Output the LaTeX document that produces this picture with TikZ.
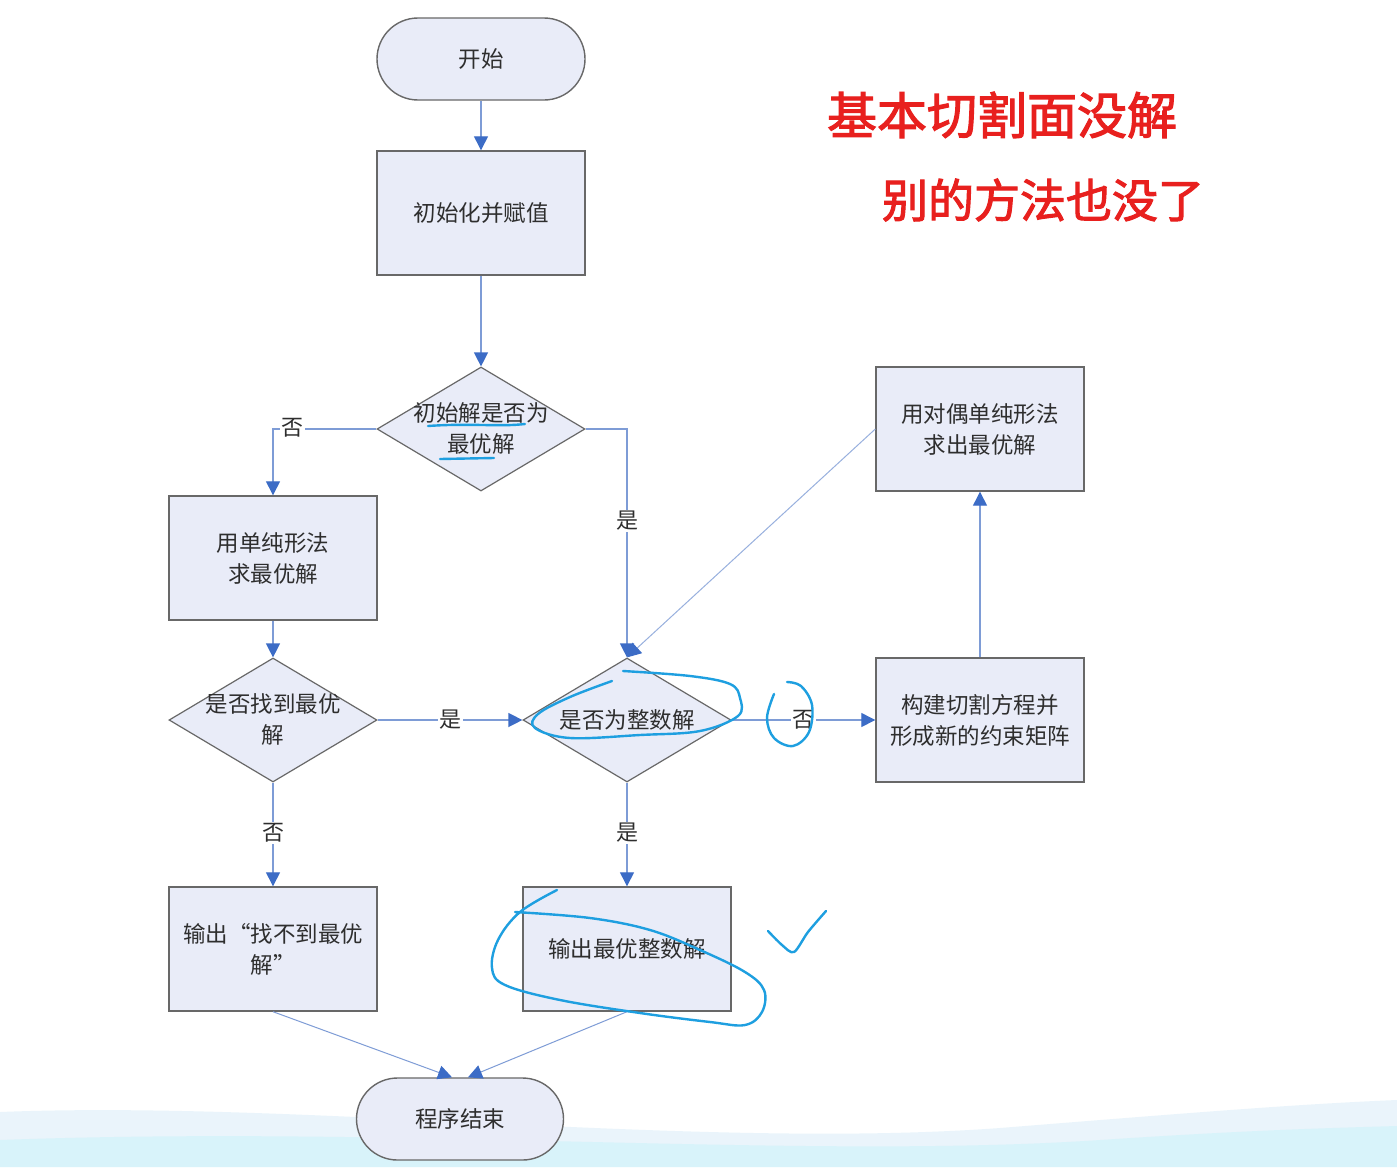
\documentclass[tikz,border=0pt]{standalone}
\usepackage{fontspec}
\setmainfont{Noto Sans CJK SC}
\newfontfamily\handfont[AutoFakeBold=2.2]{Noto Sans CJK SC}
\usetikzlibrary{shapes.geometric,arrows.meta}
\definecolor{boxfill}{HTML}{E9ECF8}
\definecolor{boxline}{HTML}{686868}
\definecolor{flowline}{HTML}{7E9CD6}
\definecolor{tipblue}{HTML}{3C6CC6}
\definecolor{ink}{HTML}{2E2E2E}
\definecolor{bluepen}{HTML}{1E9FE0}
\definecolor{redpen}{HTML}{E8201E}
\definecolor{bandblue}{HTML}{DCEEF9}
\begin{document}
\begin{tikzpicture}[x=1pt,y=-1pt,
  box/.style={draw=boxline, line width=1.4pt, fill=boxfill,
    minimum width=208pt, minimum height=124pt, inner sep=0pt,
    text=ink, font=\fontsize{22.5}{31}\selectfont, align=center},
  term/.style={box, minimum height=82pt, rounded corners=41pt},
  dia/.style={diamond, draw=boxline, line width=1.2pt, fill=boxfill,
    minimum width=208pt, minimum height=124pt, inner sep=0pt},
  txt/.style={text=ink, font=\fontsize{22.5}{31}\selectfont, align=center, inner sep=0pt},
  flow/.style={draw=flowline, line width=1.3pt,
    -{Triangle[length=14pt,width=14pt,color=tipblue]}},
  lbl/.style={fill=white, text=ink, font=\fontsize{22}{24}\selectfont, inner sep=1.5pt},
  pen/.style={draw=bluepen, line width=2.4pt, line cap=round, line join=round},
  hand/.style={text=redpen, inner sep=0pt}]

% page and slide decoration
\useasboundingbox (0,0) rectangle (1397,1167);
\fill[white] (0,0) rectangle (1397,1167);
\fill[bandblue, opacity=0.6] (0,1167) -- (0,1112)
  .. controls (300,1100) and (700,1150) .. (1000,1128)
  .. controls (1200,1112) and (1300,1104) .. (1397,1100) -- (1397,1167) -- cycle;
\fill[bandblue!80!cyan, opacity=0.3] (0,1167) -- (0,1140)
  .. controls (400,1125) and (800,1160) .. (1100,1140)
  .. controls (1250,1130) and (1330,1128) .. (1397,1126) -- (1397,1167) -- cycle;

% flowchart nodes
\node[term] (start) at (481,59) {开始};
\node[box] (init) at (481,213) {初始化并赋值};
\node[dia] (d1) at (481,429) {};
\node[txt] (d1t) at (481,428) {初始解是否为\\最优解};
\node[box] (simp) at (273,558) {用单纯形法\\求最优解};
\node[dia] (d2) at (273,720) {};
\node[txt] (d2t) at (273,719) {是否找到最优\\解};
\node[dia] (d3) at (627,720) {};
\node[txt] (d3t) at (627,720) {是否为整数解};
\node[box] (cut) at (980,720) {构建切割方程并\\形成新的约束矩阵};
\node[box] (dual) at (980,429) {用对偶单纯形法\\求出最优解};
\node[box] (nof) at (273,949) {输出“找不到最优\\解”};
\node[box] (outint) at (627,949) {输出最优整数解};
\node[term, minimum width=207pt] (stop) at (460,1119) {程序结束};

% connectors
\draw[flow] (start) -- (init);
\draw[flow] (init) -- (d1);
\draw[flow] (d1.west) -| (simp.north);
\draw[flow] (d1.east) -| (d3.north);
\draw[flow] (simp) -- (d2);
\draw[flow] (d2.east) -- (d3.west);
\draw[flow] (d2.south) -- (nof.north);
\draw[flow] (d3.south) -- (outint.north);
\draw[flow] (d3.east) -- (cut.west);
\draw[flow] (cut.north) -- (dual.south);
\draw[flow, draw=flowline!80, line width=1pt] (dual.west) -- (d3.north);
\draw[flow, line width=1pt] (nof.south) -- ([xshift=-8pt]stop.north);
\draw[flow, line width=1pt] (outint.south) -- ([xshift=8pt]stop.north);

% branch labels
\node[lbl] (n1) at (292,428) {否};
\node[lbl] (y1) at (627,521) {是};
\node[lbl] (y2) at (450,720) {是};
\node[lbl] (n2) at (273,833) {否};
\node[lbl] (y3) at (627,833) {是};
\node[lbl] (n3) at (803,720) {否};

% red handwritten note
\node[hand, font=\handfont\bfseries\fontsize{50}{56}\selectfont] (note1) at (1002,115) {基本切割面没解};
\node[hand, font=\handfont\bfseries\fontsize{46}{52}\selectfont] (note2) at (1043,200) {别的方法也没了};

% blue pen marks
\draw[pen] (428,426) .. controls (470,423) and (500,427) .. (525,424);
\draw[pen] (440,459) -- (494,458);
\draw[pen] plot[smooth, tension=0.6] coordinates {(612,681) (570,697) (538,714) (535,728)
  (570,738) (640,735) (700,731) (738,716) (740,698) (730,684) (690,676) (623,671)};
\draw[pen] plot[smooth, tension=0.6] coordinates {(774,694) (767,718) (774,738) (793,746)
  (809,732) (812,705) (801,686) (787,682)};
\draw[pen] plot[smooth, tension=0.6] coordinates {(557,890) (520,912) (498,940) (492,968)
  (505,985) (560,1000) (640,1013) (710,1022) (745,1025) (762,1012) (764,990) (745,972)
  (700,950) (650,930) (590,918) (515,912)};
\draw[pen] plot[smooth, tension=0.5] coordinates {(768,931) (782,945) (794,952) (808,932) (826,911)};
\end{tikzpicture}
\end{document}
